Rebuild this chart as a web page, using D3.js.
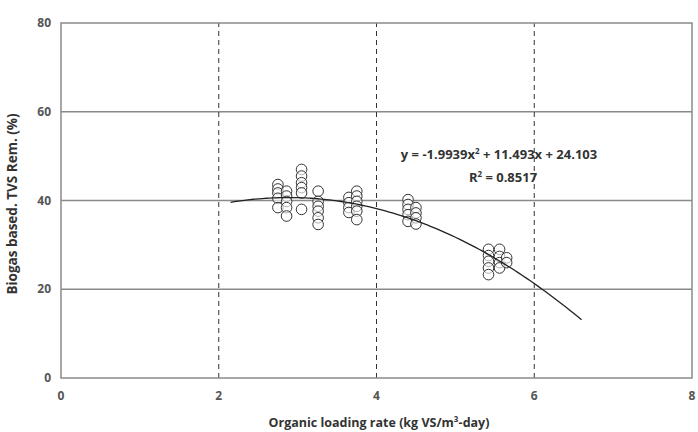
<!DOCTYPE html>
<html>
<head>
<meta charset="utf-8">
<script src="https://cdn.jsdelivr.net/npm/d3@7.9.0/dist/d3.min.js"></script>
<style>
  body { margin: 0; background: #fff; }
  text { font-family: "Open Sans", "Noto Sans", sans-serif; fill: #333; }
</style>
</head>
<body>
<div id="chart"></div>
<script>
// observed points, one array per loading-rate group
const olr = [2.75, 2.86, 3.05, 3.26, 3.65, 3.75, 4.40, 4.50, 5.42, 5.56, 5.65];
const tvsRem = [
  [43.6, 42.6, 41.7, 40.5, 38.4],
  [42.1, 41.0, 39.8, 38.4, 36.5],
  [47.0, 45.5, 44.0, 42.9, 41.7, 38.0],
  [42.1, 39.8, 38.7, 37.6, 36.1, 34.6],
  [40.7, 39.5, 38.4, 37.3],
  [42.1, 41.0, 39.8, 38.7, 37.6, 35.7],
  [40.2, 39.1, 38.0, 36.8, 35.3],
  [38.4, 37.2, 36.1, 34.7],
  [29.0, 27.6, 26.3, 24.8, 23.3],
  [29.0, 27.4, 26.0, 24.8],
  [27.1, 26.0]
];
// polynomial trendline shown on the chart
const coef = [-1.9939, 11.493, 24.103];
const fitRange = [2.15, 6.6];
const xTicks = [0, 2, 4, 6, 8];
const yTicks = [0, 20, 40, 60, 80];

const width = 698, height = 432;
const margin = { top: 23, right: 6, bottom: 54, left: 61 };

const svg = d3.select('#chart').append('svg')
  .attr('width', width)
  .attr('height', height);

const x = d3.scaleLinear().domain([0, 8]).range([margin.left, width - margin.right]);
const y = d3.scaleLinear().domain([0, 80]).range([height - margin.bottom, margin.top]);

// horizontal gridlines
svg.append('g')
  .selectAll('line')
  .data(yTicks.slice(1, -1))
  .join('line')
  .attr('x1', x(0)).attr('x2', x(8))
  .attr('y1', d => y(d)).attr('y2', d => y(d))
  .attr('stroke', '#8a8a8a').attr('stroke-width', 1.5);

// vertical dashed lines
svg.append('g')
  .selectAll('line')
  .data(xTicks.slice(1, -1))
  .join('line')
  .attr('x1', d => x(d)).attr('x2', d => x(d))
  .attr('y1', y(0)).attr('y2', y(80))
  .attr('stroke', '#333').attr('stroke-width', 1)
  .attr('stroke-dasharray', '5,4');

// frame
svg.append('rect')
  .attr('x', x(0)).attr('y', y(80))
  .attr('width', x(8) - x(0)).attr('height', y(0) - y(80))
  .attr('fill', 'none').attr('stroke', '#8a8a8a').attr('stroke-width', 1.5);

// tick labels
svg.append('g').selectAll('text')
  .data(yTicks).join('text')
  .attr('x', x(0) - 10).attr('y', d => y(d) + 4)
  .attr('text-anchor', 'end')
  .attr('font-size', 12).attr('font-weight', 700)
  .style('fill', '#555')
  .text(d => d);

svg.append('g').selectAll('text')
  .data(xTicks).join('text')
  .attr('x', d => x(d)).attr('y', y(0) + 22)
  .attr('text-anchor', 'middle')
  .attr('font-size', 12).attr('font-weight', 700)
  .style('fill', '#555')
  .text(d => d);

// points
const pts = olr.flatMap((v, i) => tvsRem[i].map(r => ({ x: v, y: r })));
svg.append('g').selectAll('circle')
  .data(pts).join('circle')
  .attr('cx', d => x(d.x)).attr('cy', d => y(d.y))
  .attr('r', 5.3)
  .attr('fill', '#fff').attr('fill-opacity', 0.6)
  .attr('stroke', '#333').attr('stroke-width', 1);

// trend curve
const fx = d3.range(fitRange[0], fitRange[1] + 0.001, 0.05);
svg.append('path')
  .datum(fx)
  .attr('fill', 'none').attr('stroke', '#222').attr('stroke-width', 1.3)
  .attr('d', d3.line()
    .x(d => x(d))
    .y(d => y(coef[0] * d * d + coef[1] * d + coef[2]))
    .curve(d3.curveMonotoneX));

// equation
const eq = svg.append('text')
  .attr('x', 499).attr('y', 159)
  .attr('text-anchor', 'middle')
  .attr('font-size', 13).attr('font-weight', 700);
eq.append('tspan').text('y = -1.9939x');
eq.append('tspan').attr('font-size', 8).attr('dy', -5).text('2');
eq.append('tspan').attr('dy', 5).text(' + 11.493x + 24.103');

const r2 = svg.append('text')
  .attr('x', 503).attr('y', 182)
  .attr('text-anchor', 'middle')
  .attr('font-size', 13).attr('font-weight', 700);
r2.append('tspan').text('R');
r2.append('tspan').attr('font-size', 8).attr('dy', -5).text('2');
r2.append('tspan').attr('dy', 5).text(' = 0.8517');

// axis titles
svg.append('text')
  .attr('x', 379).attr('y', 427)
  .attr('text-anchor', 'middle')
  .attr('font-size', 12.5).attr('font-weight', 700)
  .text('Organic loading rate (kg VS/m³-day)');

svg.append('text')
  .attr('transform', 'translate(17,204) rotate(-90)')
  .attr('text-anchor', 'middle')
  .attr('font-size', 13.5).attr('font-weight', 700)
  .text('Biogas based. TVS Rem. (%)');
</script>
</body>
</html>
